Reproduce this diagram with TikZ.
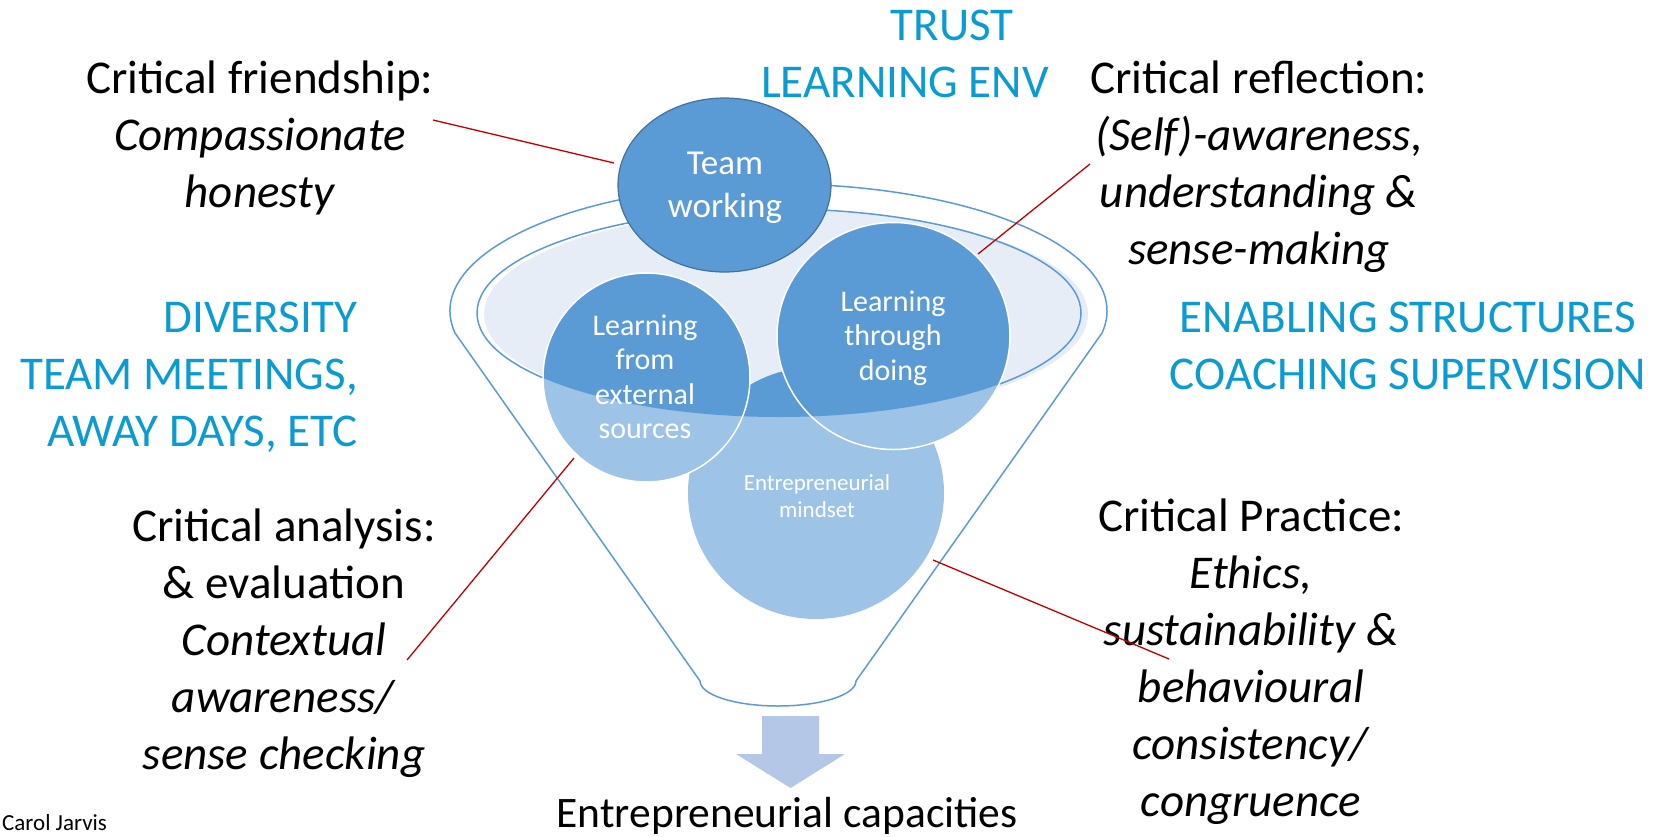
\documentclass[tikz,border=0pt]{standalone}
\usepackage{fontspec}
\setmainfont{Carlito}
\definecolor{darkB}{HTML}{5B9BD5}
\definecolor{lightB}{HTML}{9DC3E6}
\definecolor{paleB}{HTML}{E6EDF7}
\definecolor{edgeB}{HTML}{41719C}
\definecolor{arrowB}{HTML}{B4C7E7}
\definecolor{textB}{HTML}{0A9BD2}
\definecolor{redL}{HTML}{C00000}
\begin{document}
\begin{tikzpicture}[x=1pt,y=1pt,
  txt/.style={inner sep=0pt, font=\fontsize{47}{57}\selectfont, align=center, anchor=base},
  bluetxt/.style={txt, text=textB},
  intxt/.style={inner sep=0pt, text=white, align=center, anchor=base},
  funnelline/.style={draw=darkB, line width=1.5pt},
  redl/.style={draw=redL, line width=1.3pt}]
\useasboundingbox (0,0) rectangle (1666,-836);

% funnel body
\draw[funnelline] (700,-681) -- (455,-333)
  arc[start angle=190, end angle=-10, x radius=328.5pt, y radius=127pt]
  -- (856,-681)
  arc[start angle=0, end angle=-180, x radius=78pt, y radius=25pt] -- cycle;

% inner rim
\fill[paleB] (786,-314) ellipse [x radius=302pt, y radius=104pt];
\draw[funnelline] (779,-313) ellipse [x radius=302pt, y radius=104pt];

% entrepreneurial mindset circle
\fill[lightB] (816,-493) ellipse [x radius=128pt, y radius=126pt];
\begin{scope}
  \clip (779,-313) ellipse [x radius=302pt, y radius=104pt];
  \fill[darkB] (816,-493) ellipse [x radius=128pt, y radius=126pt];
\end{scope}

% learning from external sources
\fill[lightB] (646.5,-377.5) ellipse [x radius=103.5pt, y radius=104.5pt];
\begin{scope}
  \clip (779,-313) ellipse [x radius=302pt, y radius=104pt];
  \fill[darkB] (646.5,-377.5) ellipse [x radius=103.5pt, y radius=104.5pt];
\end{scope}
\draw[white, line width=1.5pt] (646.5,-377.5) ellipse [x radius=103.5pt, y radius=104.5pt];

% learning through doing
\fill[lightB] (893.5,-336) ellipse [x radius=116.5pt, y radius=113.5pt];
\begin{scope}
  \clip (779,-313) ellipse [x radius=302pt, y radius=104pt];
  \fill[darkB] (893.5,-336) ellipse [x radius=116.5pt, y radius=113.5pt];
\end{scope}
\draw[white, line width=1.5pt] (893.5,-336) ellipse [x radius=116.5pt, y radius=113.5pt];

% team working circle
\filldraw[fill=darkB, draw=edgeB, line width=1.2pt] (724.5,-185) ellipse [x radius=106.5pt, y radius=87pt];

% circle texts (anchor = baseline of last line)
\node[intxt, font=\fontsize{35}{43}\selectfont] (team) at (725,-217) {Team\\working};
\node[intxt, font=\fontsize{30}{34.5}\selectfont] (ext) at (645,-438.5) {Learning\\from\\external\\sources};
\node[intxt, font=\fontsize{30}{34.5}\selectfont] (doing) at (893,-380) {Learning\\through\\doing};
\node[intxt, font=\fontsize{23}{27}\selectfont] (mind) at (817,-517) {Entrepreneurial\\mindset};

% arrow
\fill[arrowB] (762,-716) -- (819,-716) -- (819,-754) -- (845,-754) -- (790.5,-788) -- (736,-754) -- (762,-754) -- cycle;

% blue texts
\node[bluetxt] (trust) at (952,-40) {TRUST};
\node[bluetxt] (lenv) at (905,-97) {LEARNING ENV};
\node[bluetxt, align=right, anchor=base east] (div) at (358,-446) {DIVERSITY\\TEAM MEETINGS,\\AWAY DAYS, ETC};
\node[bluetxt] (enab) at (1408,-389) {ENABLING STRUCTURES\\COACHING SUPERVISION};

% black texts
\node[txt] (friend) at (260,-207) {Critical friendship:\\\textit{Compassionate}\\\textit{honesty}};
\node[txt] (reflect) at (1259,-264) {Critical reflection:\\\textit{(Self)-awareness,}\\\textit{understanding \&}\\\textit{sense-making}};
\node[txt] (analysis) at (284,-769) {Critical analysis:\\\& evaluation\\\textit{Contextual}\\\textit{awareness/}\\\textit{sense checking}};
\node[txt] (practice) at (1251,-816) {Critical Practice:\\\textit{Ethics,}\\\textit{sustainability \&}\\\textit{behavioural}\\\textit{consistency/}\\\textit{congruence}};
\node[txt, font=\fontsize{43.5}{52}\selectfont] (cap) at (787,-827) {Entrepreneurial capacities};
\node[inner sep=0pt, anchor=base west, font=\fontsize{23}{27}\selectfont] (carol) at (2,-830) {Carol Jarvis};

% red connectors
\coordinate (r1a) at (433,-120); \coordinate (r1b) at (614,-163);
\coordinate (r2a) at (1090,-164); \coordinate (r2b) at (978,-254);
\coordinate (r3a) at (574,-458); \coordinate (r3b) at (407,-660);
\coordinate (r4a) at (933,-560); \coordinate (r4b) at (1169,-659);
\draw[redl] (r1a) -- (r1b);
\draw[redl] (r2a) -- (r2b);
\draw[redl] (r3a) -- (r3b);
\draw[redl] (r4a) -- (r4b);
\end{tikzpicture}
\end{document}
